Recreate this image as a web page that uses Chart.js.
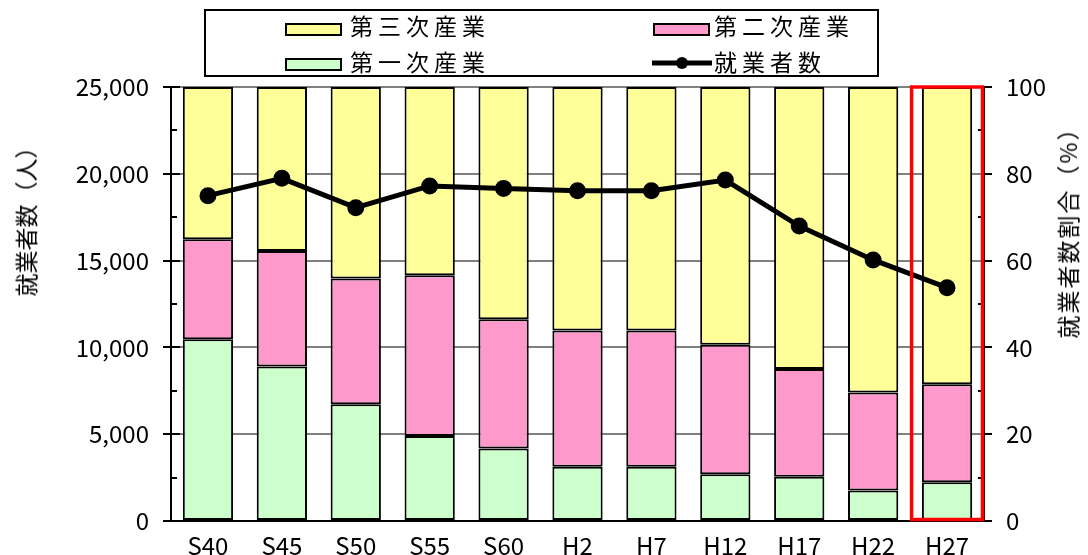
<!DOCTYPE html>
<html><head><meta charset="utf-8">
<script src="https://cdn.jsdelivr.net/npm/chart.js@4"></script>
<style>
html,body{margin:0;padding:0;background:#fff;}
#wrap{position:relative;width:1088px;height:555px;font-family:"Noto Sans CJK JP","Noto Sans",sans-serif;}
canvas{position:absolute;left:0;top:0;}
.lg{position:absolute;left:204px;top:9px;width:671px;height:64px;border:2px solid #000;background:#fff;}
.it{position:absolute;font-size:23px;letter-spacing:5px;line-height:28px;white-space:nowrap;color:#000;}
.sw{position:absolute;width:53px;height:9px;border:2px solid #000;}
.ttl{position:absolute;font-size:23px;white-space:nowrap;transform:translate(-50%,-50%) rotate(-90deg);color:#000;}
</style></head><body>
<div id="wrap">
<canvas id="c" width="1088" height="555"></canvas>
<div class="lg">
  <div class="sw" style="left:79px;top:12px;background:#FFFF99"></div>
  <div class="it" style="left:144px;top:0px">第三次産業</div>
  <div class="sw" style="left:447px;top:12px;background:#FF99CC"></div>
  <div class="it" style="left:508px;top:0px">第二次産業</div>
  <div class="sw" style="left:79px;top:47px;background:#CCFFCC"></div>
  <div class="it" style="left:144px;top:36px">第一次産業</div>
  <canvas id="lgline" width="64" height="20" style="position:absolute;left:444px;top:42px"></canvas>
  <div class="it" style="left:508px;top:36px">就業者数</div>
</div>
<div class="ttl" style="left:25px;top:216px">就業者数（人）</div>
<div class="ttl" style="left:1067px;top:227px;letter-spacing:2px">就業者数割合（%）</div>
</div>
<script>
const categories = ["S40","S45","S50","S55","S60","H2","H7","H12","H17","H22","H27"];
const primaryPct   = [41.9, 35.6, 26.9, 19.6, 16.7, 12.5, 12.5, 10.8, 10.2, 7.0, 8.9];
const secondaryPct = [23.0, 26.6, 29.0, 37.0, 29.8, 31.4, 31.4, 29.8, 24.8, 22.6, 22.6];
const tertiaryPct  = [35.1, 37.8, 44.1, 43.4, 53.5, 56.1, 56.1, 59.4, 65.0, 70.4, 68.5];
const workers      = [18740, 19740, 18050, 19300, 19160, 19030, 19030, 19640, 16990, 15040, 13440];
const leftTicks = [0, 5000, 10000, 15000, 20000, 25000];
const rightTicks = [0, 20, 40, 60, 80, 100];
const highlightCategory = "H27";

// legend line symbol
(function(){
  const c = document.getElementById('lgline').getContext('2d');
  c.strokeStyle='#000'; c.lineWidth=5; c.beginPath(); c.moveTo(2,10); c.lineTo(62,10); c.stroke();
  c.fillStyle='#000'; c.beginPath(); c.arc(32,10,6,0,Math.PI*2); c.fill();
})();

const FONT = {family:'"Noto Sans CJK JP","Noto Sans",sans-serif', size:24};

const extras = {
  id:'extras',
  afterDatasetsDraw(chart){
    const ctx = chart.ctx, y = chart.scales.y, y1 = chart.scales.y1, x = chart.scales.x;
    ctx.save();
    ctx.strokeStyle='#000'; ctx.lineWidth=2;
    for (let v=0; v<=25000; v+=2500){
      const p = Math.round(y.getPixelForValue(v));
      ctx.beginPath(); ctx.moveTo(y.right, p); ctx.lineTo(y.right+(v%5000===0?9:6), p); ctx.stroke();
    }
    for (let v=10; v<100; v+=20){
      const p = Math.round(y1.getPixelForValue(v));
      ctx.beginPath(); ctx.moveTo(y1.left-6, p); ctx.lineTo(y1.left, p); ctx.stroke();
    }
    const i = categories.indexOf(highlightCategory);
    const cx = x.getPixelForValue(i);
    const half = (x.getPixelForValue(1)-x.getPixelForValue(0))/2;
    ctx.strokeStyle='#FF0000'; ctx.lineWidth=3.5;
    const top = y1.getPixelForValue(100), bot = y1.getPixelForValue(0);
    ctx.strokeRect(cx-half+1.5, top, 2*half-3, bot-top-1.5);
    ctx.restore();
  }
};

const barStyle = {borderColor:'#000', borderWidth:2, borderSkipped:false, barPercentage:0.68, categoryPercentage:1, yAxisID:'y1', order:1, stack:'s', type:'bar'};

new Chart(document.getElementById('c'), {
  data:{
    labels: categories,
    datasets:[
      {type:'line', label:'就業者数', data:workers, yAxisID:'y', order:0,
       borderColor:'#000', borderWidth:5, pointRadius:6, pointBackgroundColor:'#000', pointBorderColor:'#000', tension:0},
      Object.assign({label:'第一次産業', data:primaryPct, backgroundColor:'#CCFFCC'}, barStyle),
      Object.assign({label:'第二次産業', data:secondaryPct, backgroundColor:'#FF99CC'}, barStyle),
      Object.assign({label:'第三次産業', data:tertiaryPct, backgroundColor:'#FFFF99'}, barStyle)
    ]
  },
  options:{
    responsive:false, animation:false, devicePixelRatio:1,
    layout:{padding:{top:87,left:0,right:0,bottom:0}},
    plugins:{legend:{display:false}, tooltip:{enabled:false}},
    scales:{
      x:{stacked:true, grid:{display:false}, border:{display:true,color:'#000',width:2},
         ticks:{color:'#000', font:FONT, padding:2},
         afterFit(s){ s.height = 34; }},
      y:{position:'left', min:0, max:25000, stacked:false,
         afterBuildTicks(s){ s.ticks = leftTicks.map(v=>({value:v})); },
         ticks:{color:'#000', font:FONT, padding:14, callback:v=>v.toLocaleString('en-US')},
         grid:{color:'#808080', lineWidth:2, tickColor:'#000', tickLength:8, drawTicks:true},
         border:{display:true,color:'#000',width:2},
         afterFit(s){ s.width = 171; }},
      y1:{position:'right', min:0, max:100, stacked:true,
         afterBuildTicks(s){ s.ticks = rightTicks.map(v=>({value:v})); },
         ticks:{color:'#000', font:FONT, padding:14},
         grid:{drawOnChartArea:false, tickColor:'#000', tickLength:8, lineWidth:2},
         border:{display:true,color:'#000',width:2},
         afterFit(s){ s.width = 104; }}
    }
  },
  plugins:[extras]
});
</script>
</body></html>
